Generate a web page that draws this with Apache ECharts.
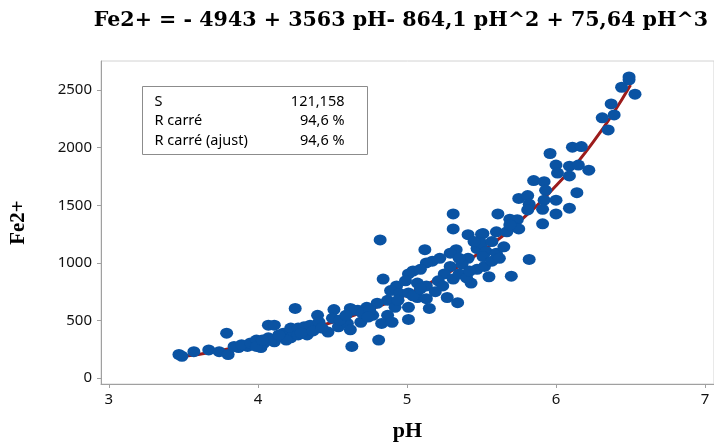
<!DOCTYPE html>
<html>
<head>
<meta charset="utf-8">
<script src="https://cdn.jsdelivr.net/npm/echarts@6/dist/echarts.min.js"></script>
<style>
  html, body { margin: 0; padding: 0; background: #fff; }
  #chart-container { width: 714px; height: 447px; }
</style>
</head>
<body>
<div id="chart-container"></div>
<script>
// values
const titleText = 'Fe2+ = - 4943 + 3563 pH- 864,1 pH^2 + 75,64 pH^3';
const xTicks = [3, 4, 5, 6, 7];
const yTicks = [0, 500, 1000, 1500, 2000, 2500];
const statLabels = ['S', 'R carré', 'R carré (ajust)'];
const statValues = ['121,158', '94,6 %', '94,6 %'];

// fitted curve
const fitLine = [
  [3.48, 185], [3.75, 240], [4.0, 320], [4.25, 395], [4.5, 485],
  [4.75, 595], [5.0, 725], [5.25, 895], [5.5, 1100], [5.75, 1355],
  [6.0, 1670], [6.25, 2050], [6.5, 2545]
];

// observations [pH, Fe2+]
const samples = [
  [6.49, 2615], [6.49, 2590], [6.44, 2525], [6.53, 2465], [6.37, 2380],
  [6.39, 2285], [6.31, 2260], [6.35, 2155], [6.11, 2005], [6.17, 2010],
  [5.96, 1950], [6.00, 1850], [6.01, 1780], [6.09, 1840], [6.15, 1850],
  [6.22, 1805], [6.09, 1755], [5.85, 1715], [5.92, 1705], [5.93, 1630],
  [6.14, 1610], [5.75, 1560], [5.81, 1585], [5.82, 1510], [5.92, 1545],
  [6.00, 1545], [5.91, 1465], [5.81, 1460], [6.09, 1475], [6.00, 1425],
  [5.61, 1425], [5.69, 1380], [5.74, 1375], [5.71, 1315], [5.75, 1295],
  [5.91, 1340], [5.51, 1255], [5.60, 1270], [5.67, 1270],
  [4.82, 1200], [5.31, 1295], [5.31, 1425], [5.41, 1245], [5.50, 1250],
  [5.69, 1330], [5.12, 1115], [5.33, 1115], [5.29, 1085], [5.47, 1125],
  [5.50, 1170], [5.53, 1100], [5.60, 1085], [5.51, 1055], [5.41, 1040],
  [5.82, 1030], [5.17, 1015], [5.13, 1000], [5.04, 930], [5.01, 905],
  [5.09, 945], [5.29, 970], [5.25, 905], [5.37, 990], [5.47, 945],
  [5.55, 880], [5.70, 885], [5.43, 825], [5.31, 860], [4.84, 860],
  [4.93, 800], [4.99, 845], [5.07, 825], [5.13, 800], [4.89, 760],
  [4.95, 735], [5.01, 740], [5.19, 750], [5.07, 700], [5.13, 690],
  [5.27, 700], [5.34, 655], [5.01, 615], [5.15, 605], [4.87, 675],
  [4.80, 650], [4.73, 615], [4.67, 590], [4.62, 605], [4.69, 485],
  [4.77, 545], [4.87, 545], [4.83, 475], [4.90, 485], [5.01, 510],
  [4.81, 330],
  [3.47, 205], [3.49, 190], [3.57, 230], [3.67, 245], [3.74, 230],
  [3.80, 205], [3.79, 390], [3.87, 265], [3.93, 275], [3.97, 290],
  [4.02, 290], [4.07, 460], [4.11, 460], [4.07, 350], [4.11, 315],
  [4.02, 265], [4.25, 605], [4.17, 390], [4.22, 435], [4.27, 435],
  [4.31, 445], [4.35, 460], [4.22, 350], [4.27, 375], [4.33, 375],
  [4.40, 545], [4.41, 485], [4.47, 400], [4.51, 595], [4.50, 520],
  [4.54, 445], [4.60, 475], [4.64, 590], [4.62, 420], [4.63, 275],
  [4.09, 330], [4.15, 360], [4.19, 330], [4.29, 390], [4.37, 410],
  [4.43, 435], [4.55, 505], [4.59, 545], [4.70, 565], [4.75, 590],
  [4.74, 530], [4.92, 615], [4.94, 675], [5.04, 715], [5.09, 775],
  [5.21, 845], [5.24, 800], [5.35, 905], [5.40, 870], [5.42, 930],
  [5.52, 970], [5.57, 1015], [5.62, 1040], [5.65, 1140], [5.57, 1185],
  [5.45, 1185], [5.35, 1040], [5.22, 1040],
  [3.84, 275], [3.89, 290], [3.95, 305], [3.99, 330], [4.04, 305],
  [4.14, 375], [3.99, 275], [4.03, 330]
];

const sans = '"Noto Sans", "Open Sans", sans-serif';
const serif = '"Liberation Serif", "DejaVu Serif", serif';

let statChildren = [
  {
    type: 'rect',
    shape: { x: 0, y: 0, width: 225, height: 68 },
    style: { fill: '#fff', stroke: '#8c8c8c', lineWidth: 1 }
  }
];
statLabels.forEach((label, i) => {
  statChildren.push({
    type: 'text',
    x: 12,
    y: 15 + i * 19.5,
    style: { text: label, font: '14.5px ' + sans, fill: '#000', verticalAlign: 'middle' }
  });
  statChildren.push({
    type: 'text',
    x: 202,
    y: 15 + i * 19.5,
    style: { text: statValues[i], font: '14.5px ' + sans, fill: '#000', align: 'right', verticalAlign: 'middle' }
  });
});

let option = {
  animation: false,
  backgroundColor: '#fff',
  title: {
    text: titleText,
    right: 1,
    top: 5,
    textStyle: { fontFamily: '"DejaVu Serif", serif', fontWeight: 'bold', fontSize: 20.6, color: '#000' }
  },
  grid: {
    left: 99,
    top: 61,
    right: -2,
    bottom: 57,
    show: true,
    borderColor: '#d2d2d2',
    borderWidth: 1
  },
  xAxis: {
    type: 'value',
    min: 2.947,
    max: 7.06,
    name: 'pH',
    nameLocation: 'middle',
    nameGap: 36,
    nameTextStyle: { fontFamily: serif, fontWeight: 'bold', fontSize: 22, color: '#000' },
    axisLine: { show: true, onZero: false, lineStyle: { color: '#a0a0a0' } },
    axisTick: { show: true, inside: false, length: 4, lineStyle: { color: '#a0a0a0' }, customValues: xTicks },
    axisLabel: { margin: 8, fontFamily: sans, fontSize: 15, color: '#111', customValues: xTicks },
    splitLine: { show: false }
  },
  yAxis: {
    type: 'value',
    min: -51,
    max: 2753,
    name: 'Fe2+',
    nameLocation: 'middle',
    nameGap: 72,
    nameRotate: 90,
    nameTextStyle: { fontFamily: serif, fontWeight: 'bold', fontSize: 21, color: '#000' },
    axisLine: { show: true, onZero: false, lineStyle: { color: '#a0a0a0' } },
    axisTick: { show: true, inside: false, length: 4, lineStyle: { color: '#a0a0a0' }, customValues: yTicks },
    axisLabel: {
      margin: 9, fontFamily: sans, fontSize: 15, color: '#111', customValues: yTicks,
      formatter: (v) => String(v)
    },
    splitLine: { show: false }
  },
  graphic: [
    { type: 'group', left: 142, top: 86, children: statChildren }
  ],
  series: [
    {
      type: 'line',
      data: fitLine,
      smooth: true,
      showSymbol: false,
      lineStyle: { color: '#9c1c1c', width: 3 },
      z: 2
    },
    {
      type: 'scatter',
      data: samples,
      symbol: 'circle',
      symbolSize: [13, 11],
      itemStyle: { color: '#0a53a3', opacity: 1 },
      z: 3
    }
  ]
};

var myChart = echarts.init(document.getElementById('chart-container'));
myChart.setOption(option);
</script>
</body>
</html>
